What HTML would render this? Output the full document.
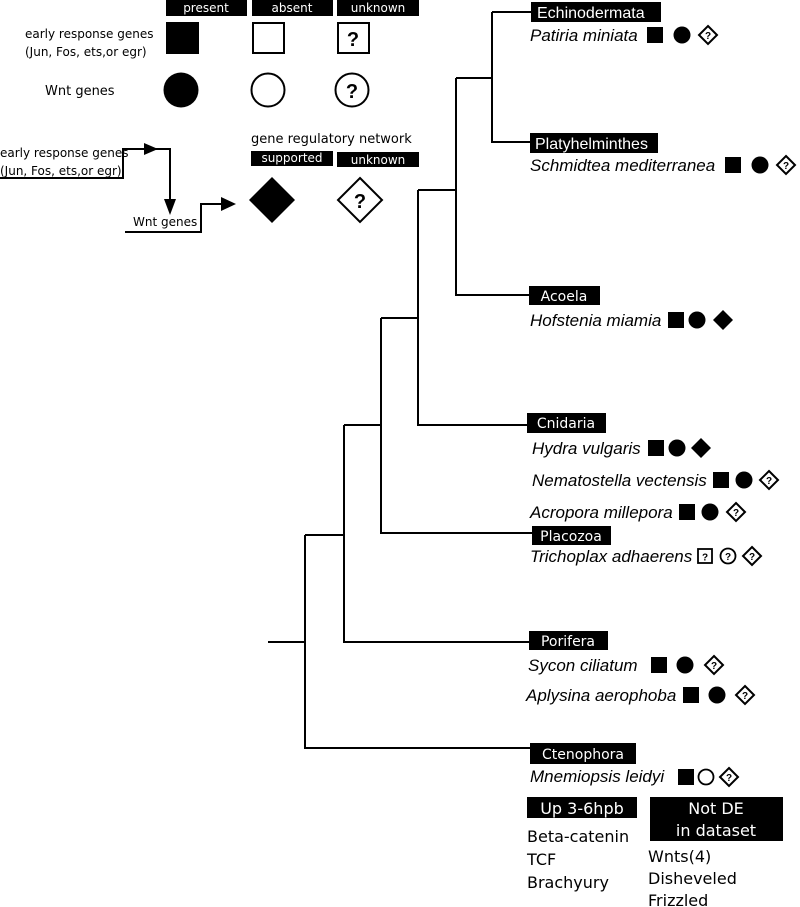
<!DOCTYPE html>
<html><head><meta charset="utf-8"><style>
body{margin:0;background:#fff;}
svg{display:block;}
.s{font-family:"Liberation Sans",sans-serif;}
.b{font-family:"DejaVu Sans","Liberation Sans",sans-serif;}
</style></head><body>
<svg width="800" height="907" viewBox="0 0 800 907" xmlns="http://www.w3.org/2000/svg">
<defs>
<g id="sq"><rect x="0" y="0" width="16" height="16" fill="#000"/></g>
<g id="ci"><circle cx="8" cy="8" r="8.5" fill="#000"/></g>
<g id="di"><path d="M10 0 L20 10 L10 20 L0 10 Z" fill="#000"/></g>
<g id="dq"><path d="M10 1 L19 10 L10 19 L1 10 Z" fill="#fff" stroke="#000" stroke-width="2"/><text x="10" y="14" font-size="10" font-weight="bold" text-anchor="middle" font-family="Liberation Sans,sans-serif">?</text></g>
<g id="sqq"><rect x="1" y="1" width="14" height="14" fill="#fff" stroke="#000" stroke-width="1.8"/><text x="8" y="12.5" font-size="10" font-weight="bold" text-anchor="middle" font-family="Liberation Sans,sans-serif">?</text></g>
<g id="ciq"><circle cx="8" cy="8" r="7.5" fill="#fff" stroke="#000" stroke-width="1.8"/><text x="8" y="12" font-size="10" font-weight="bold" text-anchor="middle" font-family="Liberation Sans,sans-serif">?</text></g>
<g id="cio"><circle cx="8" cy="8" r="7.5" fill="#fff" stroke="#000" stroke-width="1.8"/></g>
</defs>
<g class="b" font-size="12" fill="#fff" text-anchor="middle">
<rect x="166" y="0" width="81" height="16" fill="#000"/><text x="206" y="12">present</text>
<rect x="252" y="0" width="81" height="16" fill="#000"/><text x="292" y="12">absent</text>
<rect x="337" y="0" width="82" height="16" fill="#000"/><text x="378" y="12">unknown</text>
<rect x="251" y="151" width="82" height="15" fill="#000"/><text x="292" y="162">supported</text>
<rect x="337" y="152" width="82" height="15" fill="#000"/><text x="378" y="164">unknown</text>
</g>
<g class="b" font-size="12" fill="#000">
<text x="25" y="38">early response genes</text>
<text x="25" y="56">(Jun, Fos, ets,or egr)</text>
<text x="45" y="95" font-size="13">Wnt genes</text>
<text x="251" y="143" font-size="13">gene regulatory network</text>
<text x="0" y="157">early response genes</text>
<text x="0" y="175">(Jun, Fos, ets,or egr)</text>
<text x="133" y="226">Wnt genes</text>
</g>
<rect x="166" y="22" width="33" height="32" fill="#000"/>
<rect x="253" y="23" width="31" height="30" fill="#fff" stroke="#000" stroke-width="2"/>
<rect x="338" y="23" width="31" height="30" fill="#fff" stroke="#000" stroke-width="2"/>
<text x="353" y="46" font-size="20" font-weight="bold" text-anchor="middle" class="s">?</text>
<circle cx="181" cy="90" r="17.5" fill="#000"/>
<circle cx="268" cy="90" r="16.5" fill="#fff" stroke="#000" stroke-width="2"/>
<circle cx="352" cy="90" r="16.5" fill="#fff" stroke="#000" stroke-width="2"/>
<text x="352" y="98" font-size="20" font-weight="bold" text-anchor="middle" class="s">?</text>
<path d="M272 177 L295 200 L272 223 L249 200 Z" fill="#000"/>
<path d="M360 178 L382 200 L360 222 L338 200 Z" fill="#fff" stroke="#000" stroke-width="2"/>
<text x="360" y="208" font-size="20" font-weight="bold" text-anchor="middle" class="s">?</text>
<g stroke="#000" stroke-width="2" fill="none">
<path d="M0 178 H123 V149 H170 V205"/>
<path d="M125 232 H201 V204 H225"/>
</g>
<path d="M144 143 L158 149 L144 155 Z" fill="#000"/>
<path d="M164 199 L170 215 L176 199 Z" fill="#000"/>
<path d="M221 197 L236 204 L221 211 Z" fill="#000"/>
<g stroke="#000" stroke-width="2" fill="none">
<path d="M268 642 H305"/>
<path d="M305 535 V748 H530"/>
<path d="M305 535 H344"/>
<path d="M344 425 V642 H530"/>
<path d="M344 425 H381"/>
<path d="M381 318 V533 H532"/>
<path d="M381 318 H418"/>
<path d="M418 190 V425 H527"/>
<path d="M418 190 H456"/>
<path d="M456 78 V295 H529"/>
<path d="M456 78 H492"/>
<path d="M492 12 V142 H530"/>
<path d="M492 12 H531"/>
</g>
<g class="s" font-size="16" fill="#fff">
<rect x="531" y="2" width="130" height="20" fill="#000"/><text x="537" y="18">Echinodermata</text>
<rect x="530" y="133" width="128" height="20" fill="#000"/><text x="535" y="149">Platyhelminthes</text>
</g>
<g class="b" font-size="14" fill="#fff">
<rect x="529" y="286" width="71" height="19" fill="#000"/><text x="564" y="301" text-anchor="middle">Acoela</text>
<rect x="527" y="413" width="79" height="20" fill="#000"/><text x="566" y="428" text-anchor="middle">Cnidaria</text>
<rect x="532" y="526" width="79" height="19" fill="#000"/><text x="571" y="541" text-anchor="middle">Placozoa</text>
<rect x="529" y="631" width="79" height="19" fill="#000"/><text x="568" y="646" text-anchor="middle">Porifera</text>
<rect x="530" y="743" width="106" height="21" fill="#000"/><text x="583" y="759" text-anchor="middle">Ctenophora</text>
</g>
<g class="s" font-size="17" font-style="italic" fill="#000">
<text x="530" y="41">Patiria miniata</text>
<text x="530" y="171">Schmidtea mediterranea</text>
<text x="530" y="326">Hofstenia miamia</text>
<text x="532" y="454">Hydra vulgaris</text>
<text x="532" y="486">Nematostella vectensis</text>
<text x="530" y="518">Acropora millepora</text>
<text x="530" y="562">Trichoplax adhaerens</text>
<text x="528" y="671">Sycon ciliatum</text>
<text x="526" y="701">Aplysina aerophoba</text>
<text x="530" y="782">Mnemiopsis leidyi</text>
</g>
<use href="#sq" x="647" y="27"/><use href="#ci" x="674" y="27"/><use href="#dq" x="698" y="25"/>
<use href="#sq" x="725" y="157"/><use href="#ci" x="752" y="157"/><use href="#dq" x="776" y="155"/>
<use href="#sq" x="668" y="312"/><use href="#ci" x="689" y="312"/><use href="#di" x="713" y="310"/>
<use href="#sq" x="648" y="440"/><use href="#ci" x="669" y="440"/><use href="#di" x="691" y="438"/>
<use href="#sq" x="713" y="472"/><use href="#ci" x="736" y="472"/><use href="#dq" x="759" y="470"/>
<use href="#sq" x="679" y="504"/><use href="#ci" x="702" y="504"/><use href="#dq" x="726" y="502"/>
<use href="#sqq" x="697" y="548"/><use href="#ciq" x="720" y="548"/><use href="#dq" x="742" y="546"/>
<use href="#sq" x="651" y="657"/><use href="#ci" x="677" y="657"/><use href="#dq" x="704" y="655"/>
<use href="#sq" x="683" y="687"/><use href="#ci" x="709" y="687"/><use href="#dq" x="735" y="685"/>
<use href="#sq" x="678" y="769"/><use href="#cio" x="698" y="769"/><use href="#dq" x="719" y="767"/>
<g class="b" font-size="16">
<rect x="527" y="797" width="110" height="21" fill="#000"/><text x="582" y="814" fill="#fff" text-anchor="middle">Up 3-6hpb</text>
<rect x="650" y="797" width="133" height="44" fill="#000"/><text x="716" y="814" fill="#fff" text-anchor="middle">Not DE</text><text x="716" y="836" fill="#fff" text-anchor="middle">in dataset</text>
<text x="527" y="842" fill="#000">Beta-catenin</text>
<text x="527" y="865" fill="#000">TCF</text>
<text x="527" y="888" fill="#000">Brachyury</text>
<text x="648" y="862" fill="#000">Wnts(4)</text>
<text x="648" y="884" fill="#000">Disheveled</text>
<text x="648" y="906" fill="#000">Frizzled</text>
</g>
</svg>
</body></html>
